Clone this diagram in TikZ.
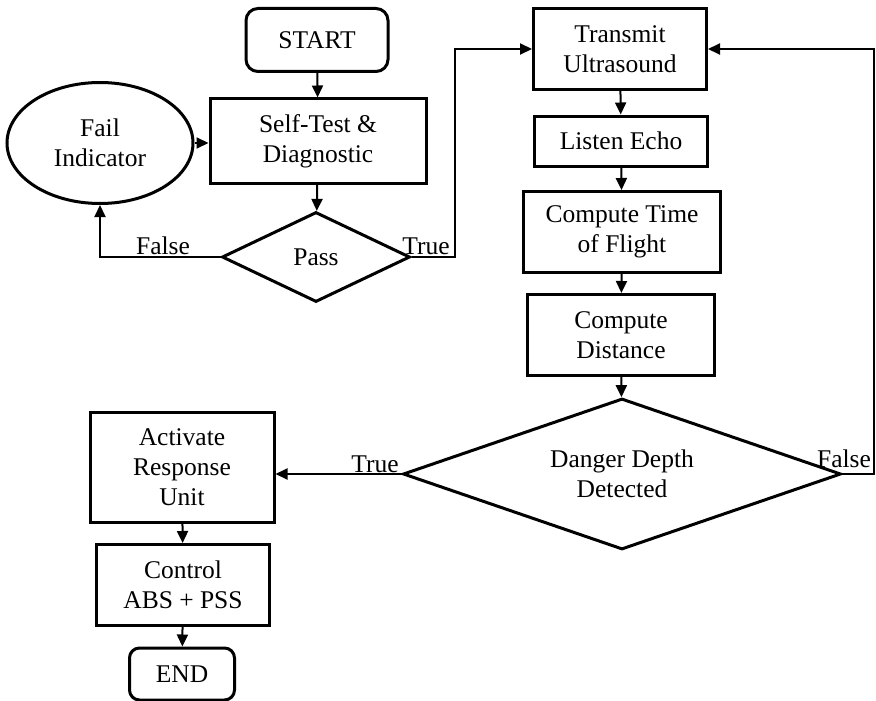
\documentclass[tikz,border=0pt]{standalone}
\usepackage{fontspec}
\setmainfont{Liberation Serif}
\usetikzlibrary{shapes.geometric,arrows.meta}
\begin{document}
\begin{tikzpicture}[x=1pt,y=-1pt,
  every node/.style={font=\fontsize{25.5}{30}\selectfont, align=center, inner sep=0pt},
  box/.style={draw, line width=3pt, rectangle, minimum width=#1},
  term/.style={draw, line width=3pt, rectangle, rounded corners=12pt},
  decision/.style={draw, line width=3pt, diamond},
  oval/.style={draw, line width=3pt, ellipse, minimum width=186pt, minimum height=121pt},
  flow/.style={line width=2pt, -{Triangle[length=12pt,width=11pt]}},
  lbl/.style={anchor=south}
]
\useasboundingbox (0,0) rectangle (876,701);

% left column: self test
\node[term, minimum width=142pt, minimum height=63pt] (start) at (317,40) {START};
\node[box=216pt, minimum height=84pt] (self) at (318,141) {Self-Test \&\\Diagnostic};
\node[oval] (fail) at (100,143) {Fail\\Indicator};
\node[decision, minimum width=188pt, minimum height=90pt, aspect=2.09] (pass) at (316,257) {Pass};

% right column: measurement loop
\node[box=173pt, minimum height=81pt] (tx) at (620,49) {Transmit\\Ultrasound};
\node[box=173pt, minimum height=50pt] (listen) at (621,141) {Listen Echo};
\node[box=197pt, minimum height=81pt] (tof) at (622,232) {Compute Time\\of Flight};
\node[box=187pt, minimum height=81pt] (dist) at (621,335) {Compute\\Distance};
\node[decision, minimum width=438pt, minimum height=151pt, aspect=2.9] (danger) at (622,474) {Danger Depth\\Detected};

% response branch
\node[box=184pt, minimum height=110pt] (act) at (182,467) {Activate\\Response\\Unit};
\node[box=173pt, minimum height=81pt] (ctrl) at (183,585) {Control\\ABS + PSS};
\node[term, rounded corners=10pt, minimum width=105pt, minimum height=52pt] (end) at (182,674) {END};

% connectors
\draw[flow] (start) -- (self);
\draw[flow] (fail.east) -- (fail.east -| self.west);
\draw[flow] (self) -- (pass);
\draw[flow] (pass.west) -| (fail.south);
\coordinate (tr) at (455,257);
\draw[flow] (pass.east) -- (tr) |- (tx.west);
\draw[flow] (tx) -- (listen);
\draw[flow] (listen) -- (tof);
\draw[flow] (tof) -- (dist);
\draw[flow] (dist) -- (danger);
\draw[flow] (danger.west) -- (danger.west -| act.east);
\coordinate (fr) at (874,474);
\draw[flow] (danger.east) -- (fr) |- (tx.east);
\draw[flow] (act) -- (ctrl);
\draw[flow] (ctrl) -- (end);

% branch labels
\node[lbl] (f1) at (163,255) {False};
\node[lbl] (t1) at (426,255) {True};
\node[lbl] (t2) at (375,473) {True};
\node[lbl] (f2) at (844,468) {False};
\end{tikzpicture}
\end{document}
